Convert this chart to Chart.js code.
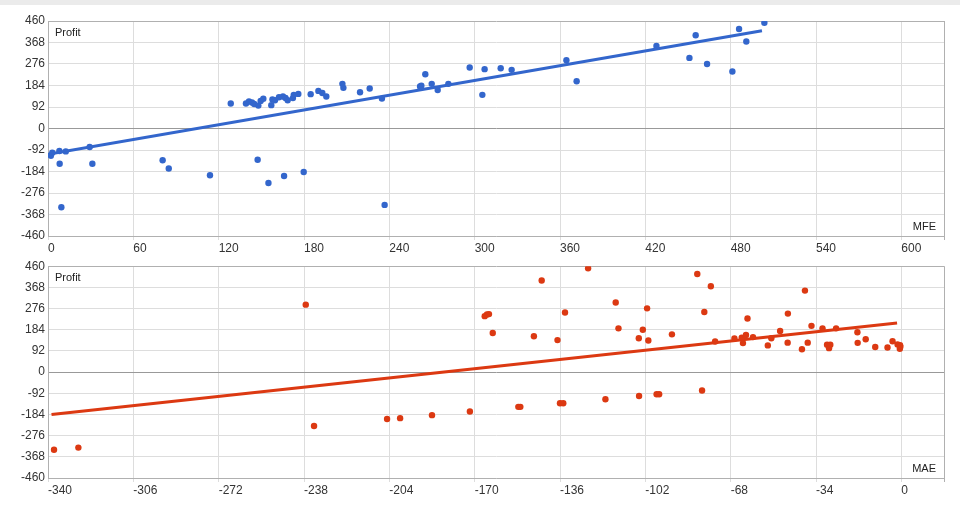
<!DOCTYPE html>
<html>
<head>
<meta charset="utf-8">
<script src="https://cdn.jsdelivr.net/npm/chart.js@4.4.0/dist/chart.umd.min.js"></script>
<style>
  body { margin: 0; background: #ffffff; width: 960px; height: 508px; overflow: hidden; }
  #Top__Strip { position: absolute; left: 0; top: 0; width: 960px; height: 5px; background: #ebebeb; }
  .Chart__Box { position: absolute; left: 0; width: 960px; }
  #Mfe__Box { top: 0; height: 256px; }
  #Mae__Box { top: 256px; height: 252px; }
</style>
</head>
<body>
<div id="Top__Strip"></div>
<div class="Chart__Box" id="Mfe__Box"><canvas id="Mfe__Chart"></canvas></div>
<div class="Chart__Box" id="Mae__Box"><canvas id="Mae__Chart"></canvas></div>
<script>
/* MFE vs Profit (upper chart) */
const mfeValues = [2, 3, 8, 12.5, 29.3, 8.2, 31.2, 9.4, 80.6, 84.9, 113.9, 128.5, 139.2, 141.3, 143.4, 145,
  147.9, 149.5, 151.4, 157, 157.8, 159.6, 162.4, 165.2, 167, 168.5, 172.2, 172.8, 176, 147.4, 155, 166,
  179.8, 184.7, 190.1, 192.9, 195.7, 207, 207.7, 219.4, 226.2, 234.8, 236.7, 261.6, 262.5, 265.3, 269.8,
  274, 281.5, 296.5, 305.4, 307, 318.3, 326, 364.5, 371.7, 427.8, 455.4, 451, 463.4, 481.2, 485.9, 491, 503.7];
const mfeProfit = [-117, -104, -96, -98, -79, -151, -151, -337, -136, -171, -200, 107, 107, 116, 111, 105,
  98, 118, 127, 100, 124, 121, 134, 137, 131, 121, 130, 144, 148, -134, -233, -203,
  -186, 147, 161, 152, 137, 191, 174, 155, 171, 128, -327, 180, 183, 232, 191,
  165, 191, 261, 144, 254, 258, 251, 292, 202, 353, 399, 302, 276, 244, 426, 372, 452];
/* trend line end points (MFE) */
const mfeTrendX = [0, 502];
const mfeTrendY = [-110, 418];

/* MAE vs Profit (lower chart) */
const maeValues = [-337.6, -327.9, -237.3, -234, -204.9, -199.7, -187, -171.9, -166, -165.1, -164.3, -162.8,
  -152.6, -151.8, -146.4, -143.3, -137, -136, -134.7, -134, -124.8, -117.9, -113.8, -112.7, -104.6, -103,
  -101.3, -100.8, -104.5, -97.5, -96.5, -91.4, -81.3, -75.9, -78.5, -79.4, -74.2, -66.5, -63.6, -63.1,
  -61.9, -61.3, -59.1, -53.2, -51.8, -48.3, -45.2, -45.3, -39.6, -38.4, -37.3, -35.8, -31.4, -29.6, -28.8,
  -28.3, -26, -17.5, -17.4, -14.2, -10.4, -5.5, -3.5, -1.5, -0.5, -0.6, -0.4];
const maeProfit = [-337, -328, 293, -234, -204, -200, -187, -171, 243, 250, 252, 170,
  -151, -151, 156, 398, 139, -135, -135, 259, 451, -118, 302, 190, 147, 184,
  277, 137, -104, -96, -96, 164, 426, 373, 261, -80, 133, 146, 149, 126,
  161, 233, 152, 116, 147, 179, 254, 128, 99, 354, 128, 201, 190, 119, 104,
  119, 190, 173, 127, 143, 109, 107, 134, 120, 117, 101, 110];
/* trend line end points (MAE) */
const maeTrendX = [-338.6, -1.7];
const maeTrendY = [-184, 213];

/* shared profit ticks */
const profitTicks = [-460, -368, -276, -184, -92, 0, 92, 184, 276, 368, 460];

/**
 * Zips two value lists into {x, y} points
 * @param {Array} _xs
 * @param {Array} _ys
 * @returns {Array}
 */
function ToPoints(_xs, _ys) {
  return _xs.map((x, i) => ({ x: x, y: _ys[i] }));
}

/* Plugin that writes the axis captions inside the plot area */
const CaptionPlugin = {
  id: "captions",
  afterDraw(chart) {
    const area = chart.chartArea;
    const ctx = chart.ctx;
    const names = chart.options.plugins.captions;
    ctx.save();
    ctx.fillStyle = "#222222";
    ctx.font = "11px 'Liberation Sans', Arial, sans-serif";
    ctx.textBaseline = "alphabetic";
    ctx.textAlign = "left";
    ctx.fillText(names.y, area.left + 7, area.top + 15);
    ctx.textAlign = "right";
    ctx.fillText(names.x, area.right - 8, area.bottom - 6);
    ctx.restore();
  }
};

/**
 * Creates one scatter chart with its trend line
 */
function CreateChart(canvasId, points, trend, color, xMin, xMax, xStep, xName, padTop, xHeight) {
  const tickFont = { family: "'Liberation Sans', Arial, sans-serif", size: 12 };
  return new Chart(document.getElementById(canvasId), {
    type: "scatter",
    plugins: [CaptionPlugin],
    data: {
      datasets: [
        {
          data: points,
          backgroundColor: color,
          pointRadius: 3.2,
          pointBorderWidth: 0,
          pointHoverRadius: 3.2,
          order: 1
        },
        {
          type: "line",
          data: trend,
          borderColor: color,
          borderWidth: 3,
          pointRadius: 0,
          fill: false,
          order: 2
        }
      ]
    },
    options: {
      responsive: true,
      maintainAspectRatio: false,
      animation: false,
      layout: { padding: { top: padTop, right: 16, left: 0, bottom: 0 } },
      plugins: {
        legend: { display: false },
        tooltip: { enabled: false },
        captions: { x: xName, y: "Profit" }
      },
      scales: {
        x: {
          type: "linear",
          min: xMin,
          max: xMax,
          ticks: {
            stepSize: xStep,
            color: "#333333",
            font: tickFont,
            padding: 1,
            align: "start",
            maxRotation: 0,
            autoSkip: false,
            callback: (v) => (Math.abs((v - xMin) % xStep) < 0.001 ? v : "")
          },
          grid: {
            color: (c) => (c.tick && c.tick.value === xMax ? "#b0b0b0" : "#dddddd"),
            tickLength: 4,
            lineWidth: 1
          },
          border: { color: "#b0b0b0" },
          afterFit: (scale) => { scale.height = xHeight; }
        },
        y: {
          type: "linear",
          min: -460,
          max: 460,
          afterBuildTicks: (scale) => { scale.ticks = profitTicks.map((v) => ({ value: v })); },
          ticks: {
            color: "#333333",
            font: tickFont,
            padding: 3
          },
          grid: {
            color: (c) => {
              if (!c.tick) return "#dddddd";
              if (c.tick.value === 0) return "#999999";
              if (c.tick.value === 460) return "#b0b0b0";
              return "#dddddd";
            },
            tickLength: 0
          },
          border: { color: "#b0b0b0" },
          afterFit: (scale) => { scale.width = 48; }
        }
      }
    }
  });
}

CreateChart("Mfe__Chart", ToPoints(mfeValues, mfeProfit), ToPoints(mfeTrendX, mfeTrendY),
  "#3366cc", 0, 630, 60, "MFE", 21, 20);
CreateChart("Mae__Chart", ToPoints(maeValues, maeProfit), ToPoints(maeTrendX, maeTrendY),
  "#dc3912", -340, 17, 34, "MAE", 7, 30);
</script>
</body>
</html>
